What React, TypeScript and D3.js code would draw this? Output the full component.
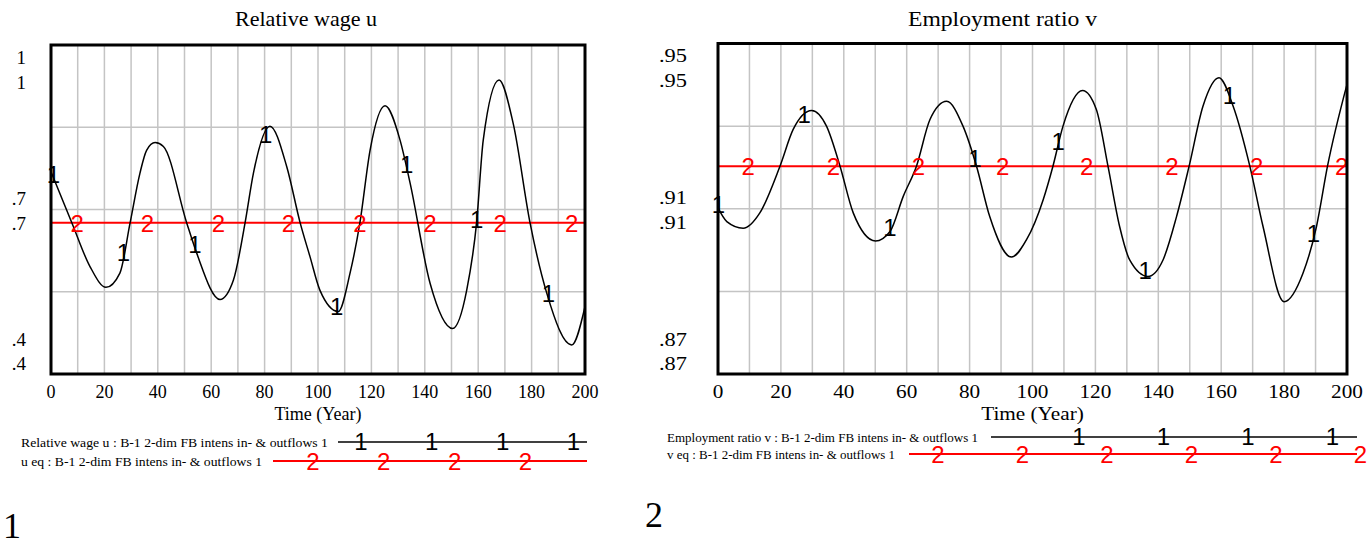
import React from 'react';
import * as d3 from 'd3';

// time axis
const xTicks = [0, 20, 40, 60, 80, 100, 120, 140, 160, 180, 200];

// Relative wage u
const uYears = [0, 7.8, 14.6, 20.6, 25.8, 29.6, 33.3, 35.8, 39, 42.1, 50.8, 54.6, 63.3, 68.3, 72.7, 75.8, 82, 88.3, 93.3, 97, 100.7, 107.6, 112, 115.7, 119.5, 125.1, 130.7, 134.5, 142, 150.4, 155.7, 159.4, 161.9, 167.8, 173.1, 179.4, 185.7, 195, 200];
const uValues = [0.769, 0.676, 0.596, 0.558, 0.584, 0.675, 0.766, 0.808, 0.822, 0.815, 0.676, 0.62, 0.536, 0.571, 0.676, 0.766, 0.852, 0.778, 0.676, 0.614, 0.553, 0.514, 0.584, 0.676, 0.808, 0.889, 0.827, 0.748, 0.565, 0.483, 0.553, 0.676, 0.827, 0.936, 0.857, 0.676, 0.547, 0.453, 0.523];
const uEq = 0.676;
const uScaleValues = [1, 0.7, 0.4];
const uScaleLabels = ['1', '.7', '.4'];
const uMarker1Years = [0.9, 27.1, 53.9, 80.4, 107, 133.2, 159.4, 186.3];
const uMarker2Years = [9.85, 36.1, 62.7, 88.9, 115.7, 141.9, 168.2, 195];

// Employment ratio v
const vYears = [0, 2.8, 8, 13.3, 19.7, 23.9, 29.8, 34.5, 38.8, 43, 50.1, 54.7, 58.9, 63.1, 67.4, 72.7, 77.9, 82.2, 86.4, 93.3, 98.1, 103.4, 106.5, 109.7, 115.9, 120.3, 124, 127.7, 130.9, 136.7, 141.5, 145.8, 149.8, 154.2, 159.3, 163.8, 169.1, 173.3, 180, 186, 190.3, 193.8, 200];
const vValues = [0.9102, 0.9069, 0.9053, 0.909, 0.9203, 0.9292, 0.9338, 0.93, 0.9203, 0.909, 0.9022, 0.9045, 0.913, 0.9203, 0.9316, 0.936, 0.93, 0.9203, 0.9081, 0.8983, 0.9025, 0.9122, 0.9203, 0.93, 0.9386, 0.934, 0.9203, 0.9057, 0.8976, 0.8936, 0.8976, 0.9081, 0.9203, 0.9348, 0.9417, 0.9348, 0.9203, 0.9057, 0.8875, 0.8944, 0.9057, 0.9203, 0.9401];
const vEq = 0.9203;
const vScaleValues = [0.95, 0.91, 0.87];
const vScaleLabels = ['.95', '.91', '.87'];
const vMarker1Years = [0.1, 27.4, 54.7, 81.7, 108.2, 135.8, 162.6, 189.3];
const vMarker2Years = [9.6, 36.7, 63.7, 90.5, 117.2, 144.3, 171.3, 198.3];

const SERIF = '"Liberation Serif", "Times New Roman", Times, serif';
const SANS = '"Liberation Sans", Arial, Helvetica, sans-serif';
const RED = '#ff0000';
const GRID = '#c4c4c4';

type P = {
  left: number; right: number; top: number; bottom: number;
  yDomain: [number, number];
  years: number[]; values: number[]; eq: number;
  m1: number[]; m2: number[];
  scaleValues: number[]; scaleLabels: string[]; labelX: number;
  title: string; titleX: number; titleW: number;
  sx: number;
  leg1: string; leg2: string; legX: number; leg1W: number; leg2W: number;
  legY1: number; legY2: number; line1X: number; line2X: number; lineEnd: number;
  mk1X: number; mk1N: number; mk2X: number; mk2N: number; mkStep: number;
  big: string; bigX: number; bigY: number;
};

function Panel(p: P) {
  const x = d3.scaleLinear().domain([0, 200]).range([p.left, p.right]);
  const y = d3.scaleLinear().domain(p.yDomain).range([p.bottom, p.top]);
  const data = p.years.map((t, i) => [t, p.values[i]] as [number, number]);
  const line = d3.line<[number, number]>().x(d => x(d[0])).y(d => y(d[1])).curve(d3.curveMonotoneX);
  const bis = d3.bisector((d: [number, number]) => d[0]).right;
  const valueAt = (t: number) => {
    const i = bis(data, t);
    if (i <= 0) return data[0][1];
    if (i >= data.length) return data[data.length - 1][1];
    const a = data[i - 1], b = data[i];
    return a[1] + (b[1] - a[1]) * (t - a[0]) / (b[0] - a[0]);
  };
  const [lo, hi] = p.yDomain;
  const hGrid = [1, 2, 3].map(k => lo + (hi - lo) * k / 4);
  const vGrid = d3.range(10, 200, 10);
  const offs = [[12, 37], [-11, 14], [-35, -11]];
  const st = (tx: number, ty: number) => `translate(${tx},${ty}) scale(${p.sx},1)`;

  return (
    <g>
      <text x={p.titleX} y={26} fontFamily={SERIF} fontSize={21} textLength={p.titleW} lengthAdjust="spacingAndGlyphs">{p.title}</text>
      {vGrid.map(t => (
        <line key={'v' + t} x1={x(t)} x2={x(t)} y1={p.top} y2={p.bottom} stroke={GRID} strokeWidth={1.5} />
      ))}
      {hGrid.map(v => (
        <line key={'h' + v} x1={p.left} x2={p.right} y1={y(v)} y2={y(v)} stroke={GRID} strokeWidth={1.5} />
      ))}
      <line x1={p.left} x2={p.right} y1={y(p.eq)} y2={y(p.eq)} stroke={RED} strokeWidth={2} />
      <path d={line(data) || ''} fill="none" stroke="#000" strokeWidth={1.5} />
      {p.m2.map(t => (
        <text key={'m2' + t} x={x(t)} y={y(p.eq) + 9} textAnchor="middle" fontFamily={SANS} fontSize={24} fill={RED}>2</text>
      ))}
      {p.m1.map(t => (
        <text key={'m1' + t} x={x(t)} y={y(valueAt(t)) + 5} textAnchor="middle" fontFamily={SANS} fontSize={24} fill="#000">1</text>
      ))}
      <rect x={p.left} y={p.top} width={p.right - p.left} height={p.bottom - p.top} fill="none" stroke="#000" strokeWidth={3} />
      {p.scaleValues.map((v, i) => offs[i].map((o, j) => (
        <text key={'s' + i + j} transform={st(p.labelX, y(v) + o + 6.5)} textAnchor="end" fontFamily={SERIF} fontSize={19}>{p.scaleLabels[i]}</text>
      )))}
      {xTicks.map(t => (
        <text key={'x' + t} transform={st(x(t), 398)} textAnchor="middle" fontFamily={SERIF} fontSize={18}>{t}</text>
      ))}
      <text transform={st((p.left + p.right) / 2, 420)} textAnchor="middle" fontFamily={SERIF} fontSize={18}>Time (Year)</text>

      <text x={p.legX} y={p.legY1 + 5} fontFamily={SERIF} fontSize={13.5} textLength={p.leg1W} lengthAdjust="spacingAndGlyphs">{p.leg1}</text>
      <text x={p.legX} y={p.legY2 + 5} fontFamily={SERIF} fontSize={13.5} textLength={p.leg2W} lengthAdjust="spacingAndGlyphs">{p.leg2}</text>
      <line x1={p.line1X} x2={p.lineEnd} y1={p.legY1} y2={p.legY1} stroke="#000" strokeWidth={1.5} />
      <line x1={p.line2X} x2={p.lineEnd} y1={p.legY2} y2={p.legY2} stroke={RED} strokeWidth={2} />
      {d3.range(p.mk1N).map(k => (
        <text key={'l1' + k} x={p.mk1X + k * p.mkStep} y={p.legY1 + 8} textAnchor="middle" fontFamily={SANS} fontSize={24}>1</text>
      ))}
      {d3.range(p.mk2N).map(k => (
        <text key={'l2' + k} x={p.mk2X + k * p.mkStep} y={p.legY2 + 9} textAnchor="middle" fontFamily={SANS} fontSize={24} fill={RED}>2</text>
      ))}
      <text x={p.bigX} y={p.bigY} fontFamily={SERIF} fontSize={36}>{p.big}</text>
    </g>
  );
}

export default function App() {
  return (
    <svg width={1369} height={549} style={{ position: 'absolute', left: 0, top: 0, background: '#fff' }}>
      <Panel
        left={51} right={585} top={45} bottom={374} yDomain={[0.4, 1]}
        years={uYears} values={uValues} eq={uEq}
        m1={uMarker1Years} m2={uMarker2Years}
        scaleValues={uScaleValues} scaleLabels={uScaleLabels} labelX={26}
        title="Relative wage u" titleX={235} titleW={142} sx={1}
        leg1="Relative wage u : B-1 2-dim FB intens in- & outflows 1"
        leg2="u eq : B-1 2-dim FB intens in- & outflows 1"
        legX={21} leg1W={307} leg2W={241} legY1={442} legY2={461}
        line1X={338} line2X={273} lineEnd={587}
        mk1X={361} mk1N={4} mk2X={313} mk2N={4} mkStep={70.8}
        big="1" bigX={3} bigY={538}
      />
      <Panel
        left={718} right={1347} top={43.5} bottom={374} yDomain={[0.87, 0.95]}
        years={vYears} values={vValues} eq={vEq}
        m1={vMarker1Years} m2={vMarker2Years}
        scaleValues={vScaleValues} scaleLabels={vScaleLabels} labelX={687}
        title="Employment ratio v" titleX={908} titleW={189} sx={1.18}
        leg1="Employment ratio v : B-1 2-dim FB intens in- & outflows 1"
        leg2="v eq : B-1 2-dim FB intens in- & outflows 1"
        legX={667} leg1W={311} leg2W={228} legY1={437} legY2={454}
        line1X={991} line2X={909} lineEnd={1357}
        mk1X={1079} mk1N={4} mk2X={938} mk2N={6} mkStep={84.5}
        big="2" bigX={645} bigY={527}
      />
    </svg>
  );
}
